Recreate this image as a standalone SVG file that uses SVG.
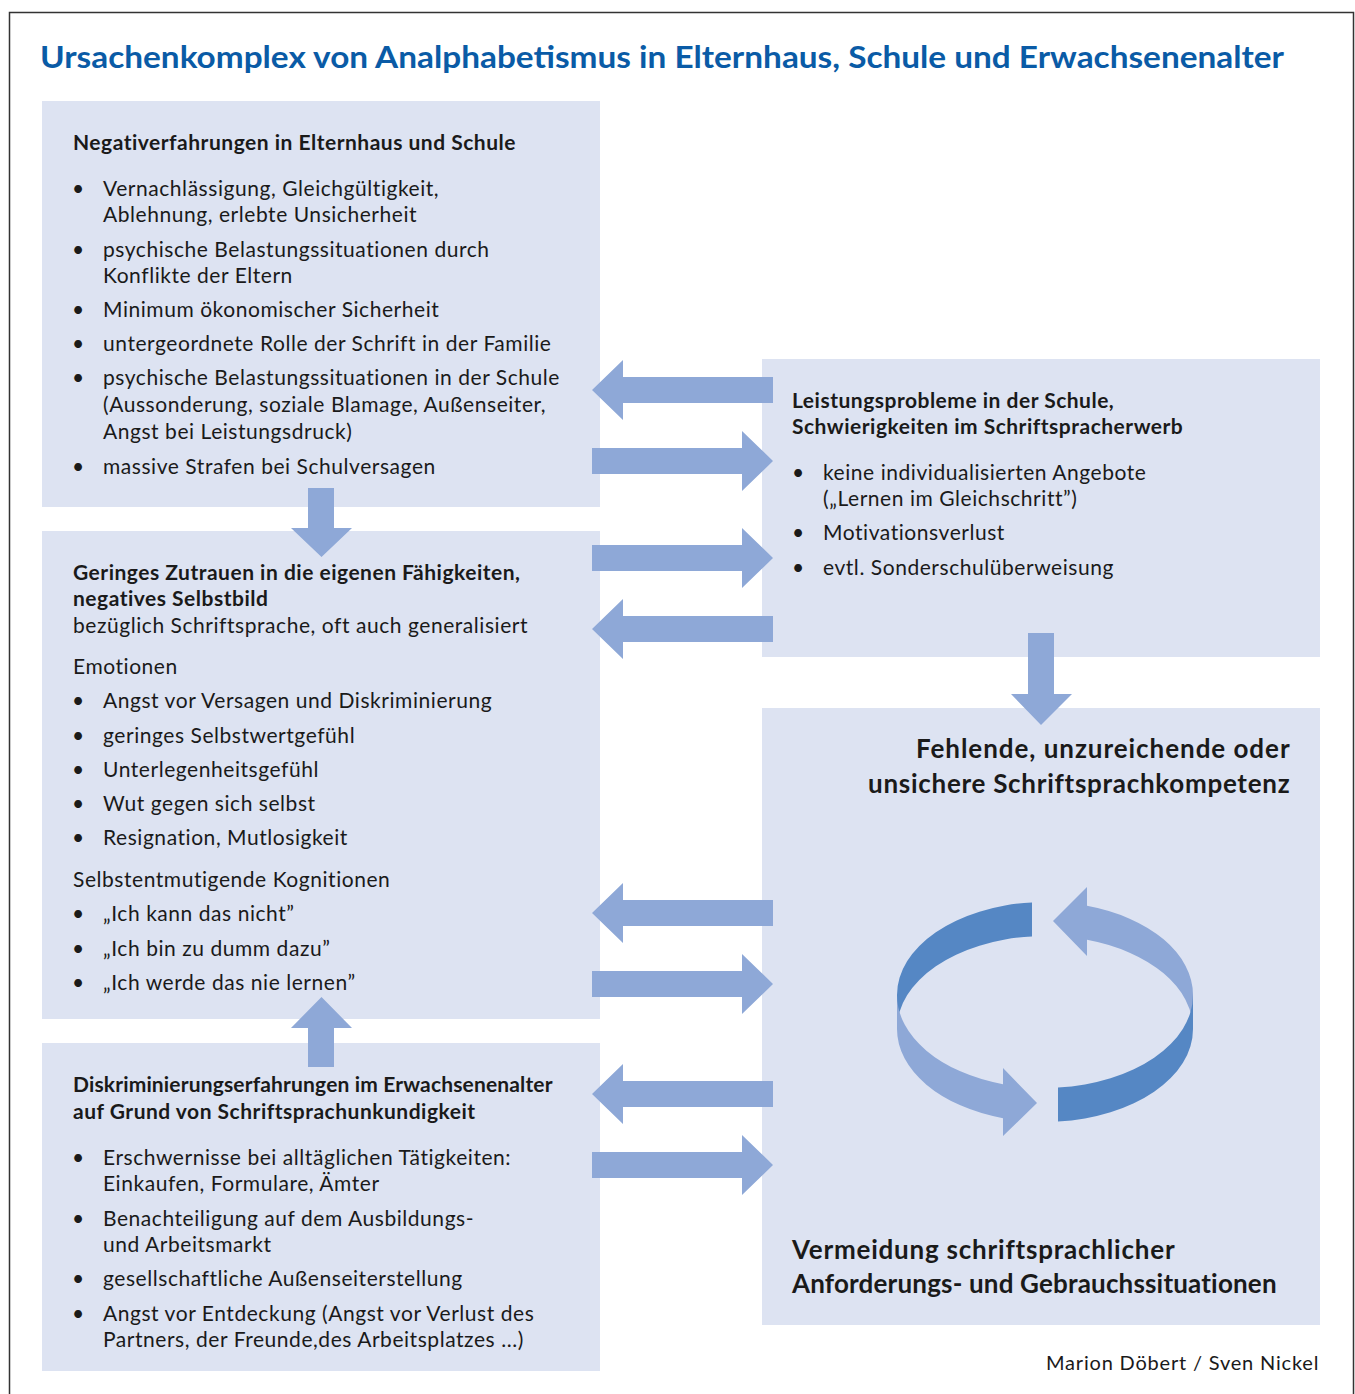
<svg xmlns="http://www.w3.org/2000/svg" width="1355" height="1394" viewBox="0 0 1355 1394">
<style>
.box{fill:#dde3f2}
.arr{fill:#8ea8d7}
.dark{fill:#5587c4}
text{font-family:Lato,"Noto Sans","Liberation Sans",sans-serif;fill:#1a1a1a}
.t{font-size:21px;letter-spacing:0.55px}
.b{font-size:21px;font-weight:bold;letter-spacing:0.5px}
.big{font-size:26px;font-weight:bold;letter-spacing:0.4px}
.title{font-size:31px;font-weight:bold;fill:#0a5ba6}
.au{font-size:20px;letter-spacing:0.6px}
</style>
<defs>
<path id="ar" d="M0,-13 H150 V-30 L181,0 L150,30 V13 H0 Z"/>
<path id="al" d="M181,-13 H31 V-30 L0,0 L31,30 V13 H181 Z"/>
</defs>
<rect x="9.5" y="12.5" width="1344" height="1400" fill="#fff" stroke="#333" stroke-width="1.5"/>
<text class="title" x="40" y="68" textLength="1244" lengthAdjust="spacingAndGlyphs">Ursachenkomplex von Analphabetismus in Elternhaus, Schule und Erwachsenenalter</text>

<g id="node-elternhaus">
<rect class="box" x="42" y="101" width="558" height="406"/>
<text class="b" x="73" y="150">Negativerfahrungen in Elternhaus und Schule</text>
<g class="t">
<text x="72" y="196">•</text><text x="103" y="196">Vernachlässigung, Gleichgültigkeit,</text>
<text x="103" y="222">Ablehnung, erlebte Unsicherheit</text>
<text x="72" y="257">•</text><text x="103" y="257">psychische Belastungssituationen durch</text>
<text x="103" y="283">Konflikte der Eltern</text>
<text x="72" y="317">•</text><text x="103" y="317">Minimum ökonomischer Sicherheit</text>
<text x="72" y="351">•</text><text x="103" y="351">untergeordnete Rolle der Schrift in der Familie</text>
<text x="72" y="385">•</text><text x="103" y="385">psychische Belastungssituationen in der Schule</text>
<text x="103" y="412">(Aussonderung, soziale Blamage, Außenseiter,</text>
<text x="103" y="439">Angst bei Leistungsdruck)</text>
<text x="72" y="474">•</text><text x="103" y="474">massive Strafen bei Schulversagen</text>
</g>
</g>

<g id="node-selbstbild">
<rect class="box" x="42" y="531" width="558" height="488"/>
<text class="b" x="73" y="580">Geringes Zutrauen in die eigenen Fähigkeiten,</text>
<text class="b" x="73" y="606">negatives Selbstbild</text>
<g class="t">
<text x="73" y="633">bezüglich Schriftsprache, oft auch generalisiert</text>
<text x="73" y="674">Emotionen</text>
<text x="72" y="708">•</text><text x="103" y="708">Angst vor Versagen und Diskriminierung</text>
<text x="72" y="743">•</text><text x="103" y="743">geringes Selbstwertgefühl</text>
<text x="72" y="777">•</text><text x="103" y="777">Unterlegenheitsgefühl</text>
<text x="72" y="811">•</text><text x="103" y="811">Wut gegen sich selbst</text>
<text x="72" y="845">•</text><text x="103" y="845">Resignation, Mutlosigkeit</text>
<text x="73" y="887">Selbstentmutigende Kognitionen</text>
<text x="72" y="921">•</text><text x="103" y="921">„Ich kann das nicht”</text>
<text x="72" y="956">•</text><text x="103" y="956">„Ich bin zu dumm dazu”</text>
<text x="72" y="990">•</text><text x="103" y="990">„Ich werde das nie lernen”</text>
</g>
</g>

<g id="node-erwachsenenalter">
<rect class="box" x="42" y="1043" width="558" height="328"/>
<text class="b" x="73" y="1092" textLength="480">Diskriminierungserfahrungen im Erwachsenenalter</text>
<text class="b" x="73" y="1119">auf Grund von Schriftsprachunkundigkeit</text>
<g class="t">
<text x="72" y="1165">•</text><text x="103" y="1165">Erschwernisse bei alltäglichen Tätigkeiten:</text>
<text x="103" y="1191">Einkaufen, Formulare, Ämter</text>
<text x="72" y="1226">•</text><text x="103" y="1226">Benachteiligung auf dem Ausbildungs-</text>
<text x="103" y="1252">und Arbeitsmarkt</text>
<text x="72" y="1286">•</text><text x="103" y="1286">gesellschaftliche Außenseiterstellung</text>
<text x="72" y="1321">•</text><text x="103" y="1321">Angst vor Entdeckung (Angst vor Verlust des</text>
<text x="103" y="1347">Partners, der Freunde,des Arbeitsplatzes ...)</text>
</g>
</g>

<g id="node-leistung">
<rect class="box" x="762" y="359" width="558" height="298"/>
<text class="b" x="792" y="408">Leistungsprobleme in der Schule,</text>
<text class="b" x="792" y="434">Schwierigkeiten im Schriftspracherwerb</text>
<g class="t">
<text x="792" y="480">•</text><text x="823" y="480">keine individualisierten Angebote</text>
<text x="823" y="506">(„Lernen im Gleichschritt”)</text>
<text x="792" y="540">•</text><text x="823" y="540">Motivationsverlust</text>
<text x="792" y="575">•</text><text x="823" y="575">evtl. Sonderschulüberweisung</text>
</g>
</g>

<g id="node-kompetenz">
<rect class="box" x="762" y="708" width="558" height="617"/>
<text class="big" x="916" y="758" textLength="374">Fehlende, unzureichende oder</text>
<text class="big" x="868" y="793" textLength="422">unsichere Schriftsprachkompetenz</text>
<text class="big" x="792" y="1259" textLength="383">Vermeidung schriftsprachlicher</text>
<text class="big" x="792" y="1293" textLength="485">Anforderungs- und Gebrauchssituationen</text>
<g id="cycle">
<path class="dark" d="M1032,902.4 A148,93 0 0 0 897,995 L897,1029 A148,93 0 0 1 1032,936.4 Z"/>
<path class="arr" d="M1087,905.8 A148,93 0 0 1 1193,995 L1193,1029 A148,93 0 0 0 1087,939.8 L1087,956 L1053,921 L1087,887 Z"/>
<path class="arr" d="M897,995 A148,93 0 0 0 1003,1084.2 L1003,1068 L1037,1103 L1003,1136 L1003,1118.2 A148,93 0 0 1 897,1029 Z"/>
<path class="dark" d="M1058,1087.6 A148,93 0 0 0 1193,995 L1193,1029 A148,93 0 0 1 1058,1121.6 Z"/>
</g>
</g>

<g id="connectors">
<use href="#al" class="arr" x="592" y="390"/>
<use href="#ar" class="arr" x="592" y="461"/>
<use href="#ar" class="arr" x="592" y="558"/>
<use href="#al" class="arr" x="592" y="629"/>
<use href="#al" class="arr" x="592" y="913"/>
<use href="#ar" class="arr" x="592" y="984"/>
<use href="#al" class="arr" x="592" y="1094"/>
<use href="#ar" class="arr" x="592" y="1165"/>
<path class="arr" d="M308,488 H334 V528 H352 L321.5,557 L291,528 H308 Z"/>
<path class="arr" d="M1028,633 H1054 V694 H1072 L1041,725 L1011,694 H1028 Z"/>
<path class="arr" d="M308,1067 H334 V1028 H352 L321.5,997 L291,1028 H308 Z"/>
</g>

<text class="au" x="1046" y="1370" textLength="273">Marion Döbert / Sven Nickel</text>
</svg>
